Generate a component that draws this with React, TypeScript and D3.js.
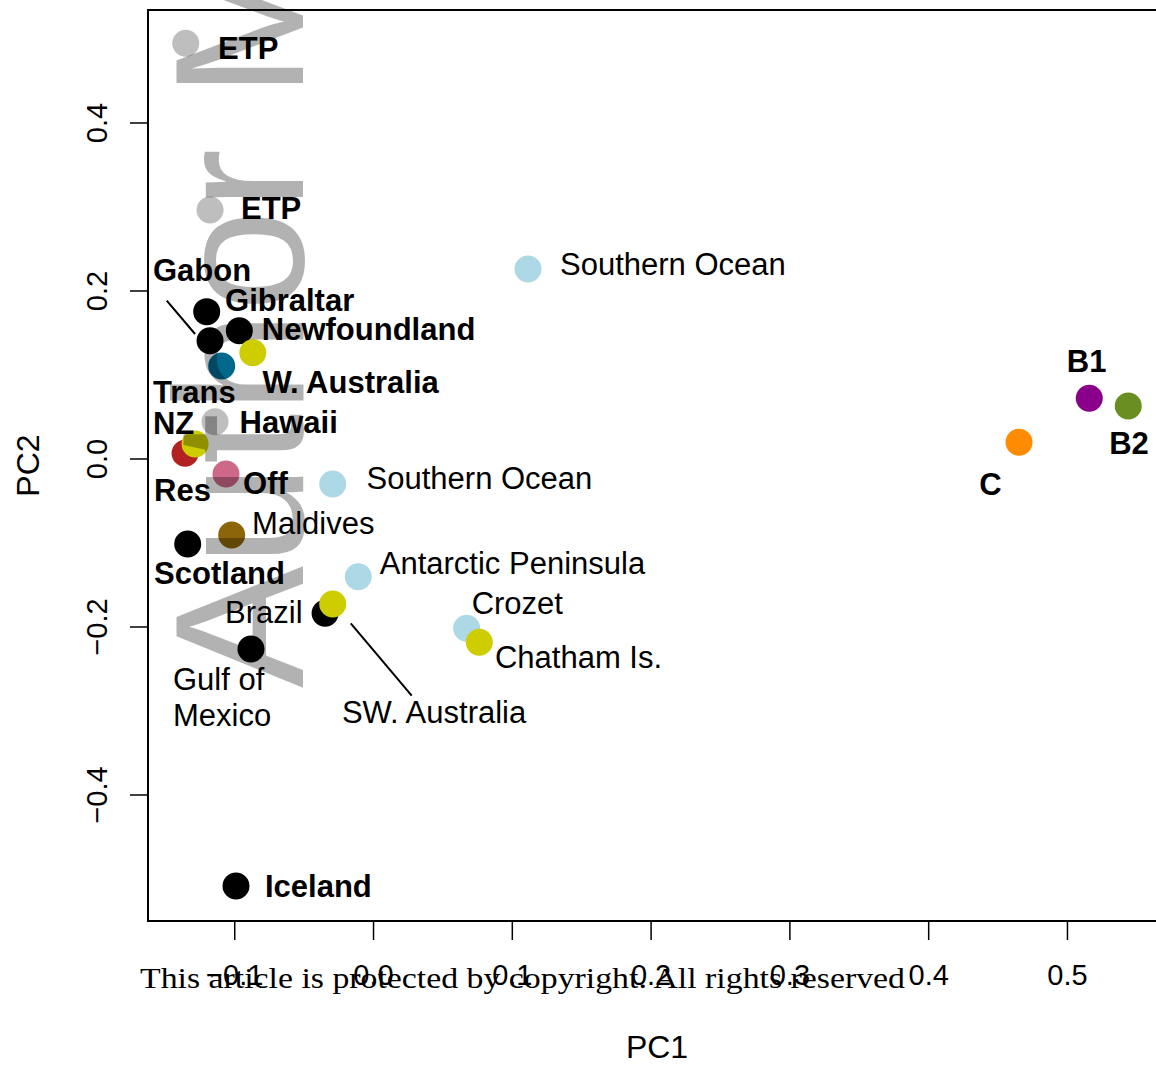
import React from "react";
import * as d3 from "d3";

// ---- data ----
const pointX = [-0.1353, -0.1178, -0.1202, -0.1178, -0.0967, -0.0870, -0.1094, -0.1142, -0.1358, -0.1286, -0.1063, -0.0294, 0.1113, -0.1022, -0.1339, -0.0110, -0.0349, -0.0294, -0.0883, 0.0671, 0.0762, -0.0991, 0.4651, 0.5157, 0.5438];
const pointY = [0.4949, 0.2964, 0.1754, 0.1408, 0.1527, 0.1265, 0.1107, 0.0444, 0.0068, 0.0179, -0.0179, -0.0298, 0.2262, -0.0905, -0.1012, -0.1401, -0.1837, -0.1726, -0.2262, -0.2015, -0.2182, -0.5083, 0.0199, 0.0723, 0.0631];
const pointColor = ["#bebebe", "#bebebe", "#000000", "#000000", "#000000", "#cdcd00", "#00688b", "#bebebe", "#b22222", "#cdcd00", "#cd6889", "#add8e6", "#add8e6", "#8b6508", "#000000", "#add8e6", "#000000", "#cdcd00", "#000000", "#add8e6", "#cdcd00", "#000000", "#ff8c00", "#8b008b", "#6b8e23"];

const labelText = ["ETP", "ETP", "Gabon", "Gibraltar", "Newfoundland", "W. Australia", "Trans", "NZ", "Hawaii", "Res", "Off", "Southern Ocean", "Maldives", "Scotland", "Antarctic Peninsula", "Crozet", "Brazil", "Chatham Is.", "Gulf of", "Mexico", "SW. Australia", "Southern Ocean", "Iceland", "B1", "B2", "C"];
const labelX = [-0.1120, -0.0955, -0.1589, -0.1070, -0.0805, -0.0800, -0.1589, -0.1589, -0.0965, -0.1581, -0.0940, -0.0050, -0.0875, -0.1581, 0.0045, 0.0707, -0.1070, 0.0875, -0.1445, -0.1445, -0.0228, 0.1344, -0.0782, 0.4995, 0.5301, 0.4365];
const labelY = [0.4890, 0.2985, 0.2250, 0.1895, 0.1550, 0.0917, 0.0798, 0.0429, 0.0440, -0.0370, -0.0286, -0.0226, -0.0762, -0.1357, -0.1238, -0.1714, -0.1818, -0.2353, -0.2619, -0.3048, -0.3012, 0.2321, -0.5083, 0.1170, 0.0187, -0.0290];
const labelBold = [true, true, true, true, true, true, true, true, true, true, true, false, false, true, false, false, false, false, false, false, false, false, true, true, true, true];

const segX1 = [-0.1490, -0.0164];
const segY1 = [0.1885, -0.1956];
const segX2 = [-0.1286, 0.0275];
const segY2 = [0.1488, -0.2818];

const xTicks = [-0.1, 0.0, 0.1, 0.2, 0.3, 0.4, 0.5];
const yTicks = [-0.4, -0.2, 0.0, 0.2, 0.4];

const xTitle = "PC1";
const yTitle = "PC2";
const watermark = "Author Manuscript";
const copyright = "This article is protected by copyright. All rights reserved";

// ---- layout ----
const W = 1156;
const H = 1065;
const left = 148, right = 1166, top = 10, bottom = 921;
const sans = "'Liberation Sans', Arial, Helvetica, sans-serif";

export default function App() {
  const x = d3.scaleLinear().domain([-0.1625, 0.5710]).range([left, right]);
  const y = d3.scaleLinear().domain([-0.5500, 0.5345]).range([bottom, top]);
  const r = 13.5;

  return (
    <svg
      width={W}
      height={H}
      viewBox={`0 0 ${W} ${H}`}
      style={{ position: "absolute", left: 0, top: 0, display: "block", background: "#fff" }}
      fontFamily={sans}
    >
      <rect x={0} y={0} width={W} height={H} fill="#fff" />
      {segX1.map((v, i) => (
        <line key={"s" + i} x1={x(v)} y1={y(segY1[i])} x2={x(segX2[i])} y2={y(segY2[i])} stroke="#000" strokeWidth={2} />
      ))}
      {pointX.map((v, i) => (
        <circle key={"p" + i} cx={x(v)} cy={y(pointY[i])} r={r} fill={pointColor[i]} />
      ))}
      {labelText.map((t, i) => (
        <text
          key={"l" + i}
          x={x(labelX[i])}
          y={y(labelY[i])}
          dy="0.36em"
          fontSize={31}
          fontWeight={labelBold[i] ? "bold" : "normal"}
          fill="#000"
        >
          {t}
        </text>
      ))}
      <rect x={left} y={top} width={right - left} height={bottom - top} fill="none" stroke="#000" strokeWidth={2} />
      {yTicks.map((t) => (
        <g key={"yt" + t}>
          <line x1={left - 18} x2={left} y1={y(t)} y2={y(t)} stroke="#000" strokeWidth={1.5} />
          <text
            transform={`translate(${107},${y(t)}) rotate(-90)`}
            textAnchor="middle"
            fontSize={29}
            fill="#000"
          >
            {d3.format(".1f")(t).replace("-", "\u2212")}
          </text>
        </g>
      ))}
      {xTicks.map((t) => (
        <g key={"xt" + t}>
          <line x1={x(t)} x2={x(t)} y1={bottom} y2={bottom + 19} stroke="#000" strokeWidth={1.5} />
          <text x={x(t)} y={985} textAnchor="middle" fontSize={29} fill="#000">
            {d3.format(".1f")(t).replace("-", "\u2212")}
          </text>
        </g>
      ))}
      <text x={(left + right) / 2} y={1058} textAnchor="middle" fontSize={32} fill="#000">
        {xTitle}
      </text>
      <text transform={`translate(${39},${(top + bottom) / 2}) rotate(-90)`} textAnchor="middle" fontSize={32} fill="#000">
        {yTitle}
      </text>
      <text
        transform={`translate(${303},${688}) rotate(-90)`}
        fontSize={183}
        fill="#000"
        fillOpacity={0.3}
      >
        {watermark}
      </text>
      <text
        x={140}
        y={988}
        fontFamily="'Liberation Serif', 'Times New Roman', serif"
        fontSize={30}
        textLength={765}
        lengthAdjust="spacingAndGlyphs"
        fill="#000"
      >
        {copyright}
      </text>
    </svg>
  );
}
